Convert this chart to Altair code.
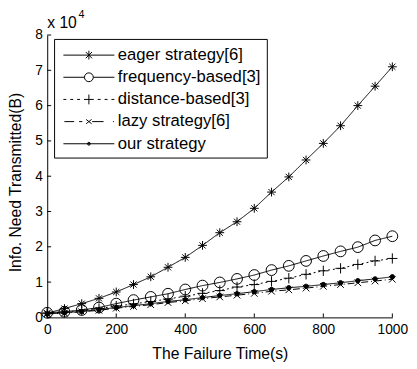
import altair as alt
import pandas as pd

# ---- data (values in units of 10^4 B) ----
times = list(range(0, 1001, 50))
series_names = ["eager strategy[6]", "frequency-based[3]", "distance-based[3]",
                "lazy strategy[6]", "our strategy"]
eager = [0.12, 0.25, 0.39, 0.54, 0.72, 0.93, 1.15, 1.42, 1.70, 2.04, 2.40,
         2.71, 3.09, 3.55, 3.98, 4.46, 4.93, 5.43, 6.00, 6.55, 7.10]
freq = [0.13, 0.16, 0.21, 0.28, 0.39, 0.49, 0.58, 0.67, 0.79, 0.90, 0.99,
        1.09, 1.20, 1.34, 1.46, 1.60, 1.74, 1.87, 1.99, 2.18, 2.30]
dist = [0.12, 0.15, 0.20, 0.25, 0.32, 0.38, 0.45, 0.52, 0.60, 0.68, 0.76,
        0.86, 0.93, 1.02, 1.11, 1.22, 1.32, 1.39, 1.50, 1.60, 1.67]
lazy = [0.10, 0.12, 0.16, 0.20, 0.26, 0.31, 0.36, 0.42, 0.47, 0.53, 0.58,
        0.63, 0.68, 0.74, 0.78, 0.83, 0.88, 0.93, 0.98, 1.03, 1.08]
ours = [0.10, 0.13, 0.17, 0.22, 0.28, 0.33, 0.39, 0.45, 0.50, 0.56, 0.62,
        0.67, 0.73, 0.79, 0.84, 0.88, 0.93, 0.98, 1.04, 1.09, 1.15]
x_ticks = [0, 200, 400, 600, 800, 1000]
y_ticks = [0, 1, 2, 3, 4, 5, 6, 7, 8]

rows = []
for name, vals in zip(series_names, [eager, freq, dist, lazy, ours]):
    for t, v in zip(times, vals):
        rows.append({"time": t, "value": v, "series": name})
df = pd.DataFrame(rows)

FONT = "Liberation Sans"

# ---- marker / line styles ----
AST = "M-1,0L1,0M0,-1L0,1M-0.7,-0.7L0.7,0.7M-0.7,0.7L0.7,-0.7"
PLUS = "M-1,0L1,0M0,-1L0,1"
XM = "M-1,-1L1,1M-1,1L1,-1"
shape_range = [AST, "circle", PLUS, XM, "circle"]
size_range = [80, 121, 110, 45, 20]
fill_range = ["transparent", "transparent", "transparent", "transparent", "black"]
dash_range = [[1, 0], [1, 0], [2, 3], [7, 3, 1, 3], [1, 0]]

L_EAGER = "M-2.6,0L2.6,0M0,-0.45L0,0.45M-0.32,-0.32L0.32,0.32M-0.32,0.32L0.32,-0.32"
L_FREQ = ("M-2.6,0L-0.45,0M0.45,0L2.6,0M0.45,0A0.45,0.45,0,1,1,-0.45,0"
          "A0.45,0.45,0,1,1,0.45,0")
L_DIST = ("M-2.6,0L-2.3,0M-1.9,0L-1.6,0M-1.2,0L-0.9,0M-0.5,0L0.5,0M0,-0.5L0,0.5"
          "M0.9,0L1.2,0M1.6,0L1.9,0M2.3,0L2.6,0")
L_LAZY = ("M-2.5,0L-1.5,0M-1.0,0L-0.67,0M-0.28,-0.22L0.28,0.22M-0.28,0.22L0.28,-0.22"
          "M0.33,0L1.5,0M2.45,0L2.55,0")
L_OURS = ("M-2.6,0L2.6,0M0.15,0A0.15,0.15,0,1,1,-0.15,0A0.15,0.15,0,1,1,0.15,0"
          "M0.06,0A0.06,0.06,0,1,1,-0.06,0A0.06,0.06,0,1,1,0.06,0")
legend_paths = [L_EAGER, L_FREQ, L_DIST, L_LAZY, L_OURS]

x_scale = alt.Scale(domain=[0, 1000], nice=False)
y_scale = alt.Scale(domain=[0, 8], nice=False)
x_axis = alt.Axis(values=x_ticks, format="d", title="The Failure Time(s)",
                  titleX=176, titleY=42, titleBaseline="alphabetic", labelOverlap=False)
y_axis = alt.Axis(values=y_ticks, format="d", title="Info. Need Transmitted(B)",
                  titleX=-27, titleY=150, titleBaseline="alphabetic", labelOverlap=False)
x_enc = alt.X("time:Q", scale=x_scale, axis=x_axis)
y_enc = alt.Y("value:Q", scale=y_scale, axis=y_axis)

base = alt.Chart(df)

lines = base.mark_line(color="black", strokeWidth=1).encode(
    x=x_enc, y=y_enc,
    strokeDash=alt.StrokeDash("series:N", scale=alt.Scale(domain=series_names, range=dash_range),
                              legend=None),
    order="time:Q",
)

points = base.mark_point(stroke="black", strokeWidth=1, opacity=1, filled=True).encode(
    x=x_enc, y=y_enc,
    shape=alt.Shape("series:N", scale=alt.Scale(domain=series_names, range=shape_range),
                    legend=None),
    size=alt.Size("series:N", scale=alt.Scale(type="ordinal", domain=series_names,
                                              range=size_range), legend=None),
    fill=alt.Fill("series:N", scale=alt.Scale(domain=series_names, range=fill_range), legend=None),
)

legend_layer = base.mark_point(opacity=0, filled=False, stroke="black").encode(
    x=x_enc, y=y_enc,
    shape=alt.Shape("series:N", scale=alt.Scale(domain=series_names, range=legend_paths),
                    legend=alt.Legend(
                        title=None, orient="none", legendX=7, legendY=4,
                        strokeColor="black", fillColor="white", padding=6,
                        labelFont=FONT, labelFontSize=17, labelColor="black",
                        labelLimit=400, symbolSize=400, symbolOffset=19, labelOffset=19,
                        rowPadding=3.6, symbolOpacity=1, symbolStrokeWidth=1,
                        symbolStrokeColor="black", symbolFillColor="transparent")),
)

xt = alt.Chart(pd.DataFrame({"time": x_ticks})).mark_rule(color="black", strokeWidth=1).encode(
    x=x_enc, y=alt.value(288), y2=alt.value(284))
yt = alt.Chart(pd.DataFrame({"value": y_ticks})).mark_rule(color="black", strokeWidth=1).encode(
    y=y_enc, x=alt.value(0), x2=alt.value(4))

exp_main = alt.Chart(pd.DataFrame({"s": ["x 10"]})).mark_text(
    font=FONT, fontSize=16, align="left", baseline="alphabetic", color="black").encode(
    x=alt.value(0), y=alt.value(-7), text="s:N")
exp_sup = alt.Chart(pd.DataFrame({"s": ["4"]})).mark_text(
    font=FONT, fontSize=11, align="left", baseline="alphabetic", color="black").encode(
    x=alt.value(32), y=alt.value(-17), text="s:N")

chart = alt.layer(lines, points, legend_layer, xt, yt, exp_main, exp_sup).resolve_scale(
    shape="independent"
).properties(
    width=352, height=288,
    autosize=alt.AutoSizeParams(type="none"),
    padding={"left": 40, "top": 24, "right": 17, "bottom": 45},
    background="white",
).configure_view(stroke=None).configure_axis(
    grid=False, domainColor="black", domainWidth=1, tickSize=0,
    labelFont=FONT, labelFontSize=14, labelColor="black", labelPadding=5,
    titleFont=FONT, titleFontSize=16, titleFontWeight="normal", titleColor="black",
    labelFlush=False,
)

chart.save("out.html", embed_options={"renderer": "svg", "actions": False})
